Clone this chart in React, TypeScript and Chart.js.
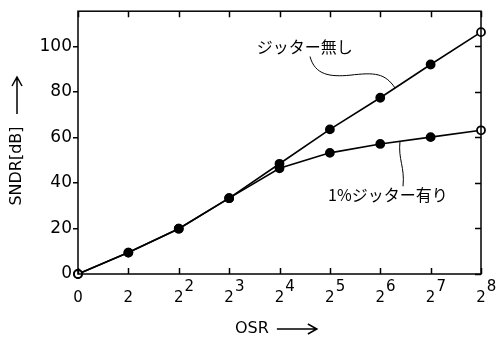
import React, { useEffect, useRef } from 'react';
import { Chart, registerables } from 'chart.js';
Chart.register(...registerables);

const osrPositions = [0, 1, 2, 3, 4, 5, 6, 7, 8];
const xTickBase = ['0', '2', '2', '2', '2', '2', '2', '2', '2'];
const xTickExp = ['', '', '2', '3', '4', '5', '6', '7', '8'];
const noJitter = [0, 9.4, 19.9, 33.3, 48.4, 63.5, 77.4, 92.0, 106.2];
const jitter1 = [0, 9.4, 19.9, 33.3, 46.4, 53.2, 57.1, 60.1, 63.1];
const yTicks = [0, 20, 40, 60, 80, 100];
const labelNoJitter = 'ジッター無し';
const labelJitter = '1%ジッター有り';
const xTitle = 'OSR';
const yTitle = 'SNDR[dB]';

// annotation anchors in data units
const noJitterText = { x: 3.55, y: 99.9 };
const noJitterLeader = [
  [4.606, 95.5],
  [4.705, 87.3], [5.002, 86.5], [5.4, 87.3],
  [5.896, 88.6], [6.094, 88.2], [6.293, 81.7],
];
const jitterText = { x: 4.963, y: 34.6 };
const jitterLeader = [
  [6.392, 58.3],
  [6.352, 50.15], [6.491, 47.1], [6.452, 38.5],
];

const JP = '"Noto Sans CJK JP", "DejaVu Sans", sans-serif';
const LAT = '"DejaVu Sans", sans-serif';

const decor = {
  id: 'decor',
  afterDraw(chart: any) {
    const ctx = chart.ctx;
    const a = chart.chartArea;
    const xs = chart.scales.x;
    const ys = chart.scales.y;
    const px = (v: number) => xs.getPixelForValue(v);
    const py = (v: number) => ys.getPixelForValue(v);
    ctx.save();
    ctx.strokeStyle = '#000';
    ctx.fillStyle = '#000';
    ctx.lineWidth = 1.5;
    // frame
    ctx.strokeRect(a.left, a.top, a.right - a.left, a.bottom - a.top);
    // inward ticks
    ctx.beginPath();
    osrPositions.forEach((v) => {
      const x = Math.round(px(v)) + 0.5;
      ctx.moveTo(x, a.bottom);
      ctx.lineTo(x, a.bottom - 6);
      ctx.moveTo(x, a.top);
      ctx.lineTo(x, a.top + 6);
    });
    yTicks.forEach((v) => {
      const y = Math.round(py(v)) + 0.5;
      ctx.moveTo(a.right, y);
      ctx.lineTo(a.right - 6, y);
    });
    ctx.stroke();

    // x tick labels with exponents
    ctx.textBaseline = 'alphabetic';
    osrPositions.forEach((v, i) => {
      const x = px(v);
      ctx.font = `15px ${LAT}`;
      ctx.textAlign = 'center';
      ctx.fillText(xTickBase[i], x, a.bottom + 28);
      if (xTickExp[i]) {
        const w = ctx.measureText(xTickBase[i]).width;
        ctx.font = `15px ${LAT}`;
        ctx.textAlign = 'left';
        ctx.fillText(xTickExp[i], x + w / 2 + 1, a.bottom + 17);
      }
    });

    // annotation texts
    ctx.font = `16px ${JP}`;
    ctx.textAlign = 'left';
    ctx.textBaseline = 'middle';
    ctx.fillText(labelNoJitter, px(noJitterText.x), py(noJitterText.y));
    ctx.fillText(labelJitter, px(jitterText.x), py(jitterText.y));

    // leaders
    ctx.lineWidth = 1;
    const curve = (pts: number[][]) => {
      ctx.beginPath();
      ctx.moveTo(px(pts[0][0]), py(pts[0][1]));
      for (let i = 1; i + 2 < pts.length; i += 3) {
        ctx.bezierCurveTo(
          px(pts[i][0]), py(pts[i][1]),
          px(pts[i + 1][0]), py(pts[i + 1][1]),
          px(pts[i + 2][0]), py(pts[i + 2][1])
        );
      }
      ctx.stroke();
    };
    curve(noJitterLeader);
    curve(jitterLeader);

    // x title with arrow
    ctx.lineWidth = 1.5;
    ctx.font = `16px ${LAT}`;
    ctx.textAlign = 'left';
    ctx.textBaseline = 'middle';
    const xtY = a.bottom + 55;
    const xtX = a.left + 157;
    ctx.fillText(xTitle, xtX, xtY);
    const tw = ctx.measureText(xTitle).width;
    const ax0 = xtX + tw + 8;
    const ax1 = ax0 + 40;
    ctx.beginPath();
    ctx.moveTo(ax0, xtY);
    ctx.lineTo(ax1, xtY);
    ctx.moveTo(ax1 - 9, xtY - 5);
    ctx.lineTo(ax1, xtY);
    ctx.lineTo(ax1 - 9, xtY + 5);
    ctx.stroke();

    // y title with arrow
    ctx.save();
    ctx.translate(17, 166);
    ctx.rotate(-Math.PI / 2);
    ctx.textAlign = 'center';
    ctx.fillText(yTitle, 0, 0);
    ctx.restore();
    ctx.beginPath();
    ctx.moveTo(17, 114);
    ctx.lineTo(17, 77);
    ctx.moveTo(12, 86);
    ctx.lineTo(17, 77);
    ctx.lineTo(22, 86);
    ctx.stroke();
    ctx.restore();
  },
};

export default function App() {
  const ref = useRef<HTMLCanvasElement>(null);
  useEffect(() => {
    if (!ref.current) return;
    const pointBg = (ctx: any) =>
      ctx.dataIndex === 0 || ctx.dataIndex === 8 ? '#fff' : '#000';
    const common = {
      borderColor: '#000',
      borderWidth: 1.6,
      pointRadius: 4,
      pointBorderWidth: 1.8,
      pointBorderColor: '#000',
      pointBackgroundColor: pointBg,
      fill: false,
      clip: false as any,
    };
    const chart = new Chart(ref.current, {
      type: 'line',
      data: {
        datasets: [
          {
            label: labelNoJitter,
            data: osrPositions.map((x, i) => ({ x, y: noJitter[i] })),
            ...common,
          },
          {
            label: labelJitter,
            data: osrPositions.map((x, i) => ({ x, y: jitter1[i] })),
            ...common,
          },
        ],
      },
      options: {
        animation: false,
        responsive: true,
        maintainAspectRatio: false,
        layout: { padding: { top: 7, right: 20, left: 0, bottom: 0 } },
        plugins: { legend: { display: false }, tooltip: { enabled: false } },
        scales: {
          x: {
            type: 'linear',
            min: 0,
            max: 8,
            ticks: { display: false },
            grid: { display: false },
            border: { display: false },
            afterFit: (s: any) => {
              s.height = 71;
            },
          },
          y: {
            min: 0,
            max: 115.4,
            afterBuildTicks: (s: any) => {
              s.ticks = yTicks.map((v) => ({ value: v }));
            },
            afterFit: (s: any) => {
              s.width = 78;
            },
            grid: {
              drawOnChartArea: false,
              drawTicks: true,
              tickLength: 5,
              color: '#000',
              lineWidth: 1.5,
            },
            border: { display: false },
            ticks: {
              color: '#000',
              padding: 1,
              font: { family: LAT, size: 17 },
            },
          },
        },
      },
      plugins: [decor],
    });
    return () => chart.destroy();
  }, []);
  return (
    <div style={{ position: 'fixed', left: 0, top: 0, width: 501, height: 345, background: '#fff' }}>
      <canvas ref={ref} />
    </div>
  );
}
